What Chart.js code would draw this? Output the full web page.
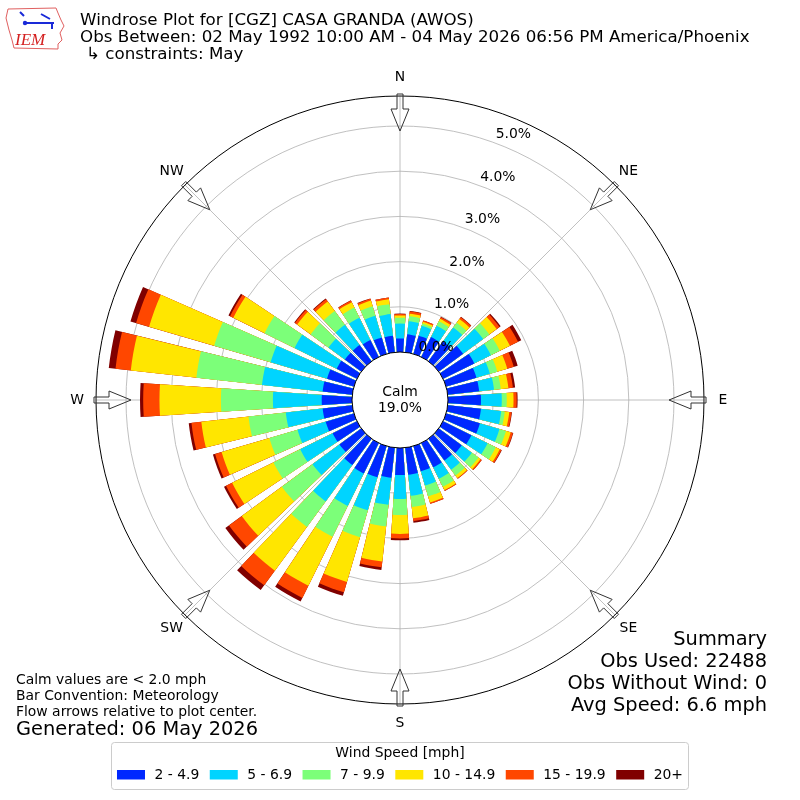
<!DOCTYPE html>
<html>
<head>
<meta charset="utf-8">
<title>Windrose CGZ</title>
<script src="https://cdn.jsdelivr.net/npm/chart.js@4.4.1/dist/chart.umd.min.js"></script>
<style>
  html, body { margin: 0; padding: 0; background: #fff; }
  #wrap { width: 800px; height: 800px; }
</style>
</head>
<body>
<div id="wrap"><canvas id="rose" width="800" height="800"></canvas></div>
<script>
    // wind directions (deg, meteorological) and percent of obs per speed bin
    var directions = [0,10,20,30,40,50,60,70,80,90,100,110,120,130,140,150,160,170,
                      180,190,200,210,220,230,240,250,260,270,280,290,300,310,320,330,340,350];
    var speedBins = ["2 - 4.9", "5 - 6.9", "7 - 9.9", "10 - 14.9", "15 - 19.9", "20+"];
    var binColors = ["#0028ff", "#00d4ff", "#7cff79", "#ffe600", "#ff4700", "#800000"];

    var pct_2_5   = [.30,.40,.42,.49,.55,.67,.77,.70,.70,.73,.74,.78,.70,.63,.60,.60,.58,.60,
                     .60,.67,.72,.75,.72,.60,.60,.65,.66,.67,.66,.62,.50,.45,.45,.42,.38,.37];
    var pct_5_7   = [.33,.29,.23,.28,.38,.55,.41,.31,.33,.46,.45,.45,.40,.28,.25,.28,.33,.47,
                     .53,.60,.76,.80,1.00,.74,.80,.65,.82,1.08,1.35,1.30,1.04,.45,.55,.55,.50,.48];
    var pct_7_10  = [.13,.11,.05,.11,.13,.17,.22,.17,.15,.11,.08,.15,.20,.18,.16,.20,.25,.25,
                     .35,.48,.62,.76,.70,.84,.66,.65,.83,1.15,1.46,1.30,.74,.49,.38,.25,.22,.22];
    var pct_10_15 = [.05,.06,.04,.06,.10,.20,.25,.23,.17,.15,.10,.11,.10,.06,.07,.08,.14,.25,
                     .42,.78,1.03,1.21,1.20,1.10,1.02,1.10,1.05,1.36,1.46,1.50,.77,.37,.26,.13,.13,.11];
    var pct_15_20 = [.03,.05,.03,.04,.05,.08,.20,.15,.10,.07,.05,.05,.04,.03,.02,.02,.03,.06,
                     .10,.13,.24,.30,.40,.35,.15,.15,.22,.36,.34,.30,.08,.06,.06,.04,.04,.04];
    var pct_20up  = [.01,.01,0,.01,.01,.03,.08,.09,.05,.02,.01,.01,.01,0,0,0,0,.04,
                     .04,.06,.08,.09,.13,.10,.05,.05,.06,.07,.15,.13,.04,.02,.02,.01,.01,0];

    var rTicks = [0, 1, 2, 3, 4, 5];
    var compass = ["N", "NE", "E", "SE", "S", "SW", "W", "NW"];
    var calmPct = "19.0%";

    var titleLines = ["Windrose Plot for [CGZ] CASA GRANDA (AWOS)",
                      "Obs Between: 02 May 1992 10:00 AM - 04 May 2026 06:56 PM America/Phoenix"];
    var constraintLine = "\u21b3 constraints: May";
    var noteLines = ["Calm values are < 2.0 mph", "Bar Convention: Meteorology",
                     "Flow arrows relative to plot center."];
    var generatedLine = "Generated: 06 May 2026";
    var summaryLines = ["Summary", "Obs Used: 22488", "Obs Without Wind: 0", "Avg Speed: 6.6 mph"];

    var BAR_DEG = 7.5;
    var GAP_DEG = 2.5;
    var FONT = "'DejaVu Sans', sans-serif";

    // each direction becomes a bar slot plus a small empty slot (the white gap)
    var slotLabels = [];
    directions.forEach(function (d) {
      slotLabels.push(d + "\u00b0");
      slotLabels.push("");
    });

    var binValues = [pct_2_5, pct_5_7, pct_7_10, pct_10_15, pct_15_20, pct_20up];
    var running = directions.map(function () { return 0; });
    var datasets = [];
    for (let b = 0; b < speedBins.length; b++) {
      var data = [];
      for (let i = 0; i < directions.length; i++) {
        running[i] += binValues[b][i];
        data.push(Math.round(running[i] * 1000) / 1000);
        data.push(0);
      }
      datasets.push({
        label: speedBins[b],
        data: data,
        borderWidth: 0,
        backgroundColor: (function (col) {
          return function (c) { return c.dataIndex % 2 ? "rgba(0,0,0,0)" : col; };
        })(binColors[b]),
        angle: function (c) { return c.dataIndex % 2 ? GAP_DEG : BAR_DEG; }
      });
    }

    function rad(deg) { return deg * Math.PI / 180; }

    function drawArrow(ctx, cx, cy, R, deg) {
      // block arrow pointing at the center, sitting on the outer ring
      var pts = [[R + 2, -3], [R - 13, -3], [R - 13, -9], [R - 35, 0], [R - 13, 9], [R - 13, 3], [R + 2, 3]];
      var a = rad(deg);
      var s = Math.sin(a), c = Math.cos(a);
      ctx.beginPath();
      pts.forEach(function (p, k) {
        var x = cx + p[0] * s + p[1] * c;
        var y = cy - p[0] * c + p[1] * s;
        if (k === 0) ctx.moveTo(x, y); else ctx.lineTo(x, y);
      });
      ctx.closePath();
      ctx.strokeStyle = "#333";
      ctx.lineWidth = 1;
      ctx.stroke();
    }

    function drawLogo(ctx) {
      ctx.save();
      ctx.strokeStyle = "#e06060";
      ctx.lineWidth = 1;
      ctx.beginPath();
      ctx.moveTo(8, 9); ctx.lineTo(56, 8); ctx.lineTo(58, 13); ctx.lineTo(61, 20);
      ctx.lineTo(64, 26); ctx.lineTo(60, 33); ctx.lineTo(62, 40); ctx.lineTo(58, 44);
      ctx.lineTo(58, 49); ctx.lineTo(14, 48); ctx.lineTo(12, 40); ctx.lineTo(9, 30);
      ctx.lineTo(6, 18); ctx.closePath();
      ctx.stroke();
      ctx.strokeStyle = "#1a2ad8";
      ctx.fillStyle = "#1a2ad8";
      ctx.lineWidth = 2;
      ctx.beginPath();
      ctx.moveTo(25, 23); ctx.lineTo(54, 23);
      ctx.moveTo(20, 12); ctx.lineTo(24, 16);
      ctx.moveTo(41, 14); ctx.lineTo(50, 19);
      ctx.moveTo(52, 23); ctx.lineTo(52, 29);
      ctx.stroke();
      ctx.beginPath(); ctx.arc(25, 23, 2.2, 0, 2 * Math.PI); ctx.fill();
      ctx.fillStyle = "#d42020";
      ctx.font = "italic 17px 'Liberation Serif', 'DejaVu Serif', serif";
      ctx.textBaseline = "alphabetic";
      ctx.textAlign = "left";
      ctx.fillText("IEM", 15, 45);
      ctx.restore();
    }

    var roseDecor = {
      id: "roseDecor",
      beforeDraw: function (chart) {
        var ctx = chart.ctx;
        ctx.save();
        ctx.fillStyle = "#fff";
        ctx.fillRect(0, 0, chart.width, chart.height);
        ctx.restore();
      },
      beforeDatasetsDraw: function (chart) {
        // grid rings and spokes sit under the bars
        var ctx = chart.ctx;
        var s = chart.scales.r;
        var cx = s.xCenter, cy = s.yCenter, R = s.drawingArea;
        ctx.save();
        ctx.strokeStyle = "#b0b0b0";
        ctx.lineWidth = 0.8;
        rTicks.forEach(function (v) {
          ctx.beginPath();
          ctx.arc(cx, cy, s.getDistanceFromCenterForValue(v), 0, 2 * Math.PI);
          ctx.stroke();
        });
        compass.forEach(function (lab, k) {
          var a = rad(k * 45);
          ctx.beginPath();
          ctx.moveTo(cx, cy);
          ctx.lineTo(cx + R * Math.sin(a), cy - R * Math.cos(a));
          ctx.stroke();
        });
        ctx.restore();
      },
      afterDatasetsDraw: function (chart) {
        var ctx = chart.ctx;
        var s = chart.scales.r;
        var cx = s.xCenter, cy = s.yCenter, R = s.drawingArea;
        ctx.save();

        ctx.strokeStyle = "#000";
        ctx.lineWidth = 1;
        ctx.beginPath();
        ctx.arc(cx, cy, R, 0, 2 * Math.PI);
        ctx.stroke();

        // calm circle
        var r0 = s.getDistanceFromCenterForValue(0);
        ctx.fillStyle = "#fff";
        ctx.beginPath();
        ctx.arc(cx, cy, r0, 0, 2 * Math.PI);
        ctx.fill();
        ctx.stroke();
        ctx.fillStyle = "#000";
        ctx.font = "13.9px " + FONT;
        ctx.textAlign = "center";
        ctx.textBaseline = "middle";
        ctx.fillText("Calm", cx, cy - 8);
        ctx.fillText(calmPct, cx, cy + 8);

        // radial tick labels
        ctx.textAlign = "left";
        rTicks.forEach(function (v) {
          var r = s.getDistanceFromCenterForValue(v);
          var a = rad(20);
          ctx.fillText(v.toFixed(1) + "%", cx + r * Math.sin(a) + 2, cy - r * Math.cos(a) - 8);
        });

        // compass labels and arrows
        ctx.textAlign = "center";
        compass.forEach(function (lab, k) {
          var a = rad(k * 45);
          ctx.fillStyle = "#000";
          ctx.fillText(lab, cx + (R + 19) * Math.sin(a), cy - (R + 19) * Math.cos(a));
          drawArrow(ctx, cx, cy, R, k * 45);
        });
        ctx.restore();
      },
      afterDraw: function (chart) {
        var ctx = chart.ctx;
        ctx.save();
        drawLogo(ctx);

        ctx.fillStyle = "#000";
        ctx.textBaseline = "middle";
        ctx.textAlign = "left";
        ctx.font = "16.7px " + FONT;
        ctx.fillText(titleLines[0], 80, 21);
        ctx.fillText(titleLines[1], 80, 38);
        ctx.fillText(constraintLine, 86, 55);

        ctx.font = "13.9px " + FONT;
        noteLines.forEach(function (t, k) { ctx.fillText(t, 16, 680 + k * 16); });
        ctx.font = "19.4px " + FONT;
        ctx.fillText(generatedLine, 16, 730);

        ctx.textAlign = "right";
        summaryLines.forEach(function (t, k) { ctx.fillText(t, 767, 640 + k * 22); });

        // legend box
        ctx.font = "13.9px " + FONT;
        var patchW = 28, pad = 9.5, colGap = 10.5;
        var widths = chart.data.datasets.map(function (d) { return ctx.measureText(d.label).width; });
        var total = 0;
        widths.forEach(function (w) { total += patchW + pad + w; });
        total += colGap * (widths.length - 1);
        var x0 = 400 - total / 2;
        ctx.strokeStyle = "#cccccc";
        ctx.lineWidth = 1;
        ctx.beginPath();
        if (ctx.roundRect) ctx.roundRect(x0 - 5.5, 742.5, total + 11, 47, 3);
        else ctx.rect(x0 - 5.5, 742.5, total + 11, 47);
        ctx.fillStyle = "rgba(255,255,255,0.8)";
        ctx.fill();
        ctx.stroke();
        ctx.fillStyle = "#000";
        ctx.textAlign = "center";
        ctx.fillText("Wind Speed [mph]", 400, 753);
        ctx.textAlign = "left";
        var x = x0;
        chart.data.datasets.forEach(function (d, k) {
          ctx.fillStyle = binColors[k];
          ctx.fillRect(x, 770, patchW, 9.5);
          ctx.fillStyle = "#000";
          ctx.fillText(d.label, x + patchW + pad, 775);
          x += patchW + pad + widths[k] + colGap;
        });
        ctx.restore();
      }
    };

    var chart = new Chart(document.getElementById("rose"), {
      type: "polarArea",
      data: { labels: slotLabels, datasets: datasets },
      options: {
        responsive: false,
        devicePixelRatio: 1,
        animation: false,
        events: [],
        layout: { padding: 96 },
        plugins: {
          legend: { display: false },
          tooltip: { enabled: false }
        },
        scales: {
          r: {
            min: -1.062,
            max: 5.664,
            startAngle: -BAR_DEG / 2,
            grid: { display: false },
            angleLines: { display: false },
            pointLabels: { display: false },
            ticks: { display: false },
            afterBuildTicks: function (scale) {
              scale.ticks = rTicks.map(function (v) { return { value: v }; });
            }
          }
        }
      },
      plugins: [roseDecor]
    });
</script>
</body>
</html>
